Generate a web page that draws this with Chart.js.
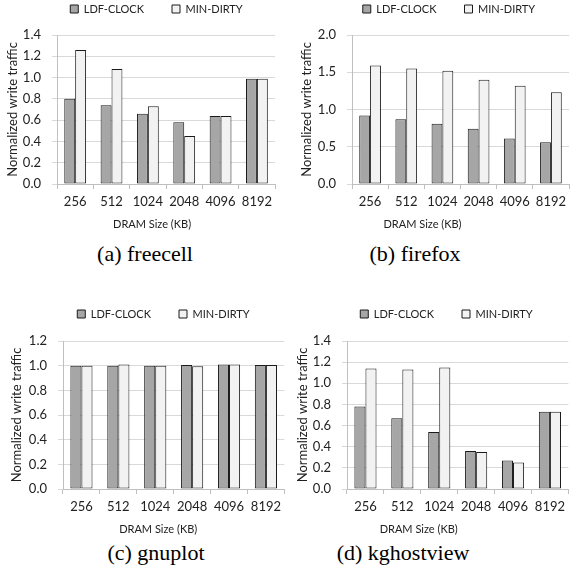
<!DOCTYPE html>
<html>
<head>
<meta charset="utf-8">
<title>Normalized write traffic vs DRAM size</title>
<script src="https://cdn.jsdelivr.net/npm/chart.js@4.4.1/dist/chart.umd.min.js"></script>
<style>
  html, body { margin: 0; padding: 0; background: #fff; overflow: hidden; }
  body { width: 570px; height: 577px; position: relative; }
  canvas { position: absolute; }
  .caption {
    position: absolute;
    font-family: "Liberation Serif", "Times New Roman", serif;
    font-size: 22px;
    color: #000;
    white-space: nowrap;
    transform: translate(-50%, -50%);
  }
</style>
</head>
<body>
<canvas id="chart-a" width="277" height="235" style="left:0px;top:0px"></canvas>
<canvas id="chart-b" width="277" height="235" style="left:294px;top:0px"></canvas>
<canvas id="chart-c" width="282" height="234" style="left:4px;top:306px"></canvas>
<canvas id="chart-d" width="280" height="234" style="left:290px;top:306px"></canvas>
<div class="caption" style="left:145px;top:254px">(a) freecell</div>
<div class="caption" style="left:415px;top:254px">(b) firefox</div>
<div class="caption" style="left:156px;top:553px">(c) gnuplot</div>
<div class="caption" style="left:403px;top:553px">(d) kghostview</div>
<script>
"use strict";

// ── Data ───────────────────────────────────────────────────────────────────
const SIZES = ["256", "512", "1024", "2048", "4096", "8192"];

const FREECELL_LDF = [0.80, 0.74, 0.66, 0.58, 0.64, 0.99];
const FREECELL_MIN = [1.26, 1.08, 0.73, 0.45, 0.64, 0.99];

const FIREFOX_LDF = [0.92, 0.87, 0.81, 0.74, 0.61, 0.56];
const FIREFOX_MIN = [1.59, 1.55, 1.52, 1.40, 1.32, 1.23];

const GNUPLOT_LDF = [1.00, 1.00, 1.00, 1.005, 1.01, 1.005];
const GNUPLOT_MIN = [1.00, 1.01, 1.00, 0.995, 1.01, 1.005];

const KGHOST_LDF = [0.78, 0.67, 0.54, 0.36, 0.27, 0.73];
const KGHOST_MIN = [1.14, 1.13, 1.15, 0.35, 0.25, 0.73];

// ── Defaults ───────────────────────────────────────────────────────────────
Chart.defaults.font.family = "Lato, 'Open Sans', sans-serif";
Chart.defaults.color = "#333";
Chart.defaults.animation = false;

const GRID = "#d9d9d9";
const AXIS = "#bfbfbf";

// Excel-like placement: fixed legend height, legend nudged, x title
// centred on the whole frame rather than the plot area.
// (legend clips to its own box, so only its top edge moves up)
const layoutFix = {
  id: "layoutFix",
  beforeLayout(chart, args, opts) {
    const lg = chart.legend;
    if (!lg || lg._fixed) return;
    const fit = lg.fit.bind(lg);
    lg.fit = function () { fit(); this.height = opts.height; };
    lg._fixed = true;
  },
  afterLayout(chart, args, opts) {
    const lg = chart.legend;
    lg.left += opts.dx; lg.right += opts.dx;
    lg.top += opts.dy;

    const xs = chart.scales.x;
    if (xs && !xs._fixed) {
      const drawTitle = xs.drawTitle.bind(xs);
      xs.drawTitle = function () {
        this.ctx.save();
        this.ctx.translate(opts.titleDx, 0);
        drawTitle();
        this.ctx.restore();
      };
      xs._fixed = true;
    }
  },
};

// ── Panel helper ───────────────────────────────────────────────────────────
function drawPanel(id, ldf, min, yMax, yStep, p) {
  const ctx = document.getElementById(id).getContext("2d");
  return new Chart(ctx, {
    type: "bar",
    plugins: [layoutFix],
    data: {
      labels: SIZES,
      datasets: [
        {
          label: "LDF-CLOCK",
          data: ldf,
          backgroundColor: "#a6a6a6",
          borderColor: "#1a1a1a",
          borderWidth: 1,
          borderSkipped: false,
          categoryPercentage: 0.6,
          barPercentage: 1.0,
        },
        {
          label: "MIN-DIRTY",
          data: min,
          backgroundColor: "#f2f2f2",
          borderColor: "#1a1a1a",
          borderWidth: 1,
          borderSkipped: false,
          categoryPercentage: 0.6,
          barPercentage: 1.0,
        },
      ],
    },
    options: {
      responsive: false,
      layout: { padding: 0 },
      plugins: {
        layoutFix: { height: 35, dx: p.dx, dy: p.dy, titleDx: p.titleDx },
        legend: {
          position: "top",
          labels: {
            boxWidth: 8,
            boxHeight: 8,
            padding: 28,
            color: "#222",
            font: { size: 11 },
          },
        },
        tooltip: { enabled: false },
      },
      scales: {
        x: {
          afterFit: s => { s.height = 51; },
          grid: {
            offset: true,
            drawOnChartArea: false,
            tickLength: 5,
            color: AXIS,
          },
          border: { color: AXIS },
          ticks: { padding: 5, color: "#222", font: { size: 13 } },
          title: {
            display: true,
            text: "DRAM Size (KB)",
            color: "#222",
            font: { size: 11 },
            padding: { top: 0, bottom: 4 },
          },
        },
        y: {
          min: 0,
          max: yMax,
          afterFit: s => { s.width = p.yWidth; },
          grid: { color: GRID, tickLength: 5 },
          border: { color: AXIS },
          ticks: {
            stepSize: yStep,
            padding: 11,
            color: "#222",
            font: { size: 13 },
            callback: v => v.toFixed(1),
          },
          title: {
            display: true,
            text: "Normalized write traffic",
            color: "#222",
            font: { size: 13 },
            padding: { top: 5, bottom: 0 },
          },
        },
      },
    },
  });
}

// ── Boot ───────────────────────────────────────────────────────────────────
drawPanel("chart-a", FREECELL_LDF, FREECELL_MIN, 1.4, 0.2, { yWidth: 57, dx: 18, dy: -24.5, titleDx: -14 });
drawPanel("chart-b", FIREFOX_LDF, FIREFOX_MIN, 2.0, 0.5, { yWidth: 58, dx: 16.5, dy: -24.5, titleDx: -38 });
drawPanel("chart-c", GNUPLOT_LDF, GNUPLOT_MIN, 1.2, 0.2, { yWidth: 59, dx: 18.5, dy: -25.5, titleDx: -15.5 });
drawPanel("chart-d", KGHOST_LDF, KGHOST_MIN, 1.4, 0.2, { yWidth: 57, dx: 16.5, dy: -25.5, titleDx: -39 });
</script>
</body>
</html>
